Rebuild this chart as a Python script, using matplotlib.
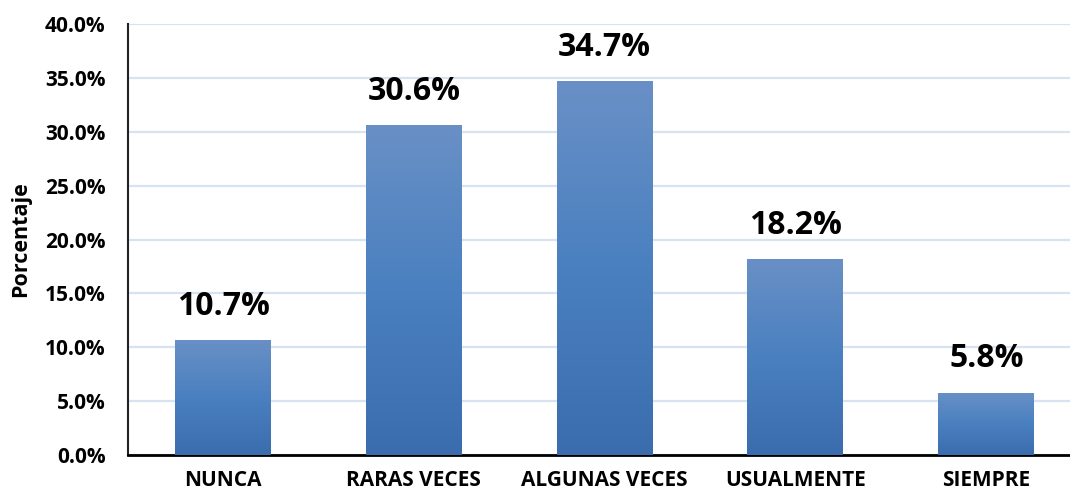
import numpy as np
import matplotlib
matplotlib.use("Agg")
import matplotlib.pyplot as plt
from matplotlib.colors import LinearSegmentedColormap
from matplotlib.ticker import FuncFormatter

categories = ["NUNCA", "RARAS VECES", "ALGUNAS VECES", "USUALMENTE", "SIEMPRE"]
values = [10.7, 30.6, 34.7, 18.2, 5.8]
yticks = [0, 5, 10, 15, 20, 25, 30, 35, 40]

plt.rcParams["font.family"] = ["Open Sans", "DejaVu Sans"]
plt.rcParams["font.weight"] = "bold"

fig = plt.figure(figsize=(10.70, 4.94), dpi=100)
ax = fig.add_axes([0.1193, 0.079, 0.8916, 0.872])

x = np.arange(len(categories))
bars = ax.bar(x, values, width=0.503, color="none", zorder=3)

# vertical gradient inside each bar
cmap = LinearSegmentedColormap.from_list("grad", ["#3b6dae", "#4a80c0", "#6990c6"])
grad = np.linspace(0, 1, 256).reshape(-1, 1)
for b in bars:
    x0, y0 = b.get_x(), b.get_y()
    w, h = b.get_width(), b.get_height()
    im = ax.imshow(grad, cmap=cmap, aspect="auto", origin="lower",
                   extent=[x0, x0 + w, y0, y0 + h], zorder=3)
    im.set_clip_path(b)

for xi, v in zip(x, values):
    ax.text(xi, v + 1.6, f"{v:.1f}%", ha="center", va="bottom",
            fontsize=23, fontweight="bold", color="black")

ax.set_xlim(-0.5, len(categories) - 0.5)
ax.set_ylim(0, 40)
ax.set_yticks(yticks)
ax.yaxis.set_major_formatter(FuncFormatter(lambda v, p: f"{v:.1f}%"))
ax.set_xticks(x)
ax.set_xticklabels(categories)
ax.tick_params(axis="both", length=0, labelsize=15)
ax.tick_params(axis="x", pad=11)
ax.tick_params(axis="y", pad=16)
ax.grid(axis="y", color="#d8e3f1", linewidth=1.6, zorder=0)
ax.set_axisbelow(True)

for s in ["top", "right"]:
    ax.spines[s].set_visible(False)
ax.spines["left"].set_color("#222222")
ax.spines["left"].set_linewidth(1.5)
ax.spines["bottom"].set_color("black")
ax.spines["bottom"].set_linewidth(2)

ax.set_ylabel("Porcentaje", fontsize=15.5, fontweight="bold")
ax.yaxis.set_label_coords(-0.1013, 0.5)

fig.savefig("out.png", dpi=100)
